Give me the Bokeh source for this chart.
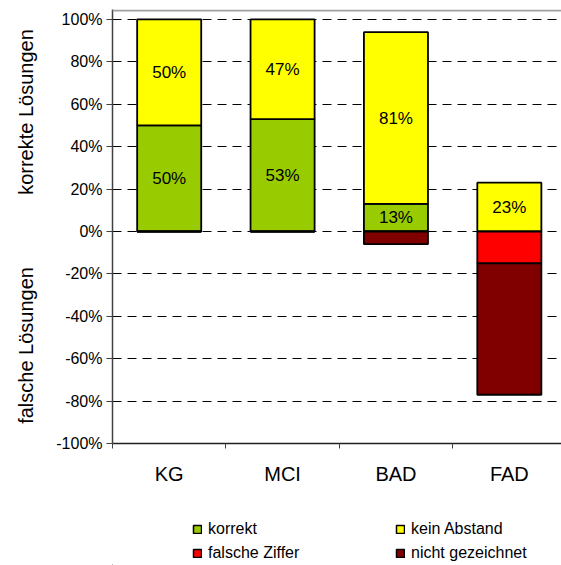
from bokeh.plotting import figure
from bokeh.layouts import column
from bokeh.models import (ColumnDataSource, FixedTicker, PrintfTickFormatter, Range1d,
                          Legend, LegendItem, LabelSet, Span)
from bokeh.core.properties import value
from bokeh.embed import file_html
from bokeh.resources import INLINE

# --- data (percent of solutions per group) ---
groups = ["KG", "MCI", "BAD", "FAD"]
korrekt = [50, 53, 13, 0]
kein_abstand = [50, 47, 81, 23]
falsche_ziffer = [0, 0, 0, 15]
nicht_gezeichnet = [0, 0, 6, 62]
y_ticks = [-100, -80, -60, -40, -20, 0, 20, 40, 60, 80, 100]

FONT = "Liberation Sans"
GREEN, YELLOW, RED, DARKRED = "#99CC00", "#FFFF00", "#FF0000", "#800000"

xc = [i + 0.5 for i in range(len(groups))]
pos_top = [k + a for k, a in zip(korrekt, kein_abstand)]
neg_mid = [-f for f in falsche_ziffer]
neg_bot = [-(f + n) for f, n in zip(falsche_ziffer, nicht_gezeichnet)]

src = ColumnDataSource(dict(x=xc, k_top=korrekt, a_top=pos_top,
                            f_bot=neg_mid, n_bot=neg_bot))

Y_TOP = 104.7
p = figure(width=561, height=493, output_backend="svg", toolbar_location=None,
           x_range=Range1d(0, 3.96), y_range=Range1d(-100, Y_TOP),
           min_border_left=112, min_border_right=0, min_border_top=9,
           min_border_bottom=50)
p.background_fill_color = "white"
p.border_fill_color = "white"
p.outline_line_color = None
# light frame line along the top of the plot area
p.add_layout(Span(location=Y_TOP - 0.45, dimension="width", line_color="#a0a0a0",
                  line_width=2))

W = 0.565
bar_style = dict(width=W, source=src, line_color="black", line_width=1.8)
p.vbar(x="x", bottom=0, top="k_top", fill_color=GREEN, **bar_style)
p.vbar(x="x", bottom="k_top", top="a_top", fill_color=YELLOW, **bar_style)
p.vbar(x="x", bottom="f_bot", top=0, fill_color=RED, **bar_style)
p.vbar(x="x", bottom="n_bot", top="f_bot", fill_color=DARKRED, **bar_style)

# value labels inside the positive segments
lx, ly, lt = [], [], []
for i in range(len(groups)):
    if korrekt[i] > 0:
        lx.append(xc[i]); ly.append(korrekt[i] / 2); lt.append(f"{korrekt[i]}%")
    if kein_abstand[i] > 0:
        lx.append(xc[i]); ly.append(korrekt[i] + kein_abstand[i] / 2); lt.append(f"{kein_abstand[i]}%")
lab_src = ColumnDataSource(dict(x=lx, y=ly, t=lt))
p.add_layout(LabelSet(x="x", y="y", text="t", source=lab_src, text_align="center",
                      text_baseline="middle", text_font=value(FONT),
                      text_font_size=value("17px"), text_color="black"))

# y axis: percent ticks, two-part title (negative half below, positive half above)
p.yaxis.ticker = FixedTicker(ticks=y_ticks)
p.yaxis.formatter = PrintfTickFormatter(format="%d%%")
p.yaxis.major_tick_out = 6
p.yaxis.major_tick_in = 0
p.yaxis.minor_tick_out = 0
p.yaxis.minor_tick_in = 0
p.yaxis.major_label_standoff = 4
p.yaxis.major_label_text_font = FONT
p.yaxis.major_label_text_font_size = "16px"
p.yaxis.major_label_text_color = "black"
p.yaxis.axis_line_color = "#404040"
p.yaxis.axis_line_width = 1.5
p.yaxis.major_tick_line_color = "#404040"
p.yaxis.axis_label = "falsche Lösungen" + "\u00a0" * 13 + "korrekte Lösungen"
p.yaxis.axis_label_text_font = FONT
p.yaxis.axis_label_text_font_size = "20px"
p.yaxis.axis_label_text_font_style = "normal"
p.yaxis.axis_label_text_color = "black"
p.yaxis.axis_label_standoff = 16

# x axis: group names centred, ticks on the group boundaries
p.xaxis.ticker = FixedTicker(ticks=xc, minor_ticks=list(range(len(groups) + 1)))
p.xaxis.major_label_overrides = {x: g for x, g in zip(xc, groups)}
p.xaxis.major_tick_out = 0
p.xaxis.major_tick_in = 0
p.xaxis.minor_tick_out = 5
p.xaxis.minor_tick_in = 0
p.xaxis.minor_tick_line_color = "#404040"
p.xaxis.major_label_standoff = 14
p.xaxis.major_label_text_font = FONT
p.xaxis.major_label_text_font_size = "20px"
p.xaxis.major_label_text_color = "black"
p.xaxis.axis_line_color = "#202020"
p.xaxis.axis_line_width = 1.5

p.xgrid.grid_line_color = None
p.ygrid.ticker = FixedTicker(ticks=[t for t in y_ticks if t > -100])
p.ygrid.grid_line_color = "black"
p.ygrid.grid_line_dash = "9 6"
p.ygrid.grid_line_width = 1

# 2x2 legend in a strip below the chart; its swatch renderers lie far outside the view
lg = figure(width=561, height=72, output_backend="svg", toolbar_location=None,
            x_range=Range1d(0, 561), y_range=Range1d(0, 72),
            min_border_left=0, min_border_right=0, min_border_top=0, min_border_bottom=0)
lg.axis.visible = False
lg.grid.visible = False
lg.outline_line_color = None
swatch_src = ColumnDataSource(dict(x=[-5000], bottom=[-3000], top=[-2000]))
sw = dict(x="x", bottom="bottom", top="top", width=1, source=swatch_src,
          line_color="black", line_width=1.5)
g_k = lg.vbar(fill_color=GREEN, **sw)
g_a = lg.vbar(fill_color=YELLOW, **sw)
g_f = lg.vbar(fill_color=RED, **sw)
g_n = lg.vbar(fill_color=DARKRED, **sw)
legend = Legend(items=[LegendItem(label="korrekt", renderers=[g_k]),
                       LegendItem(label="falsche Ziffer", renderers=[g_f]),
                       LegendItem(label="kein Abstand", renderers=[g_a]),
                       LegendItem(label="nicht gezeichnet", renderers=[g_n])],
                orientation="vertical", nrows=2, location=(80, 2),
                padding=0, margin=0, spacing=4, border_line_color=None,
                background_fill_alpha=0, glyph_width=10, glyph_height=10,
                label_height=20, label_width=183, label_standoff=6,
                label_text_font=FONT, label_text_font_size="16px",
                label_text_color="black")
lg.add_layout(legend)

open("out.html", "w").write(file_html(column(p, lg), INLINE))
